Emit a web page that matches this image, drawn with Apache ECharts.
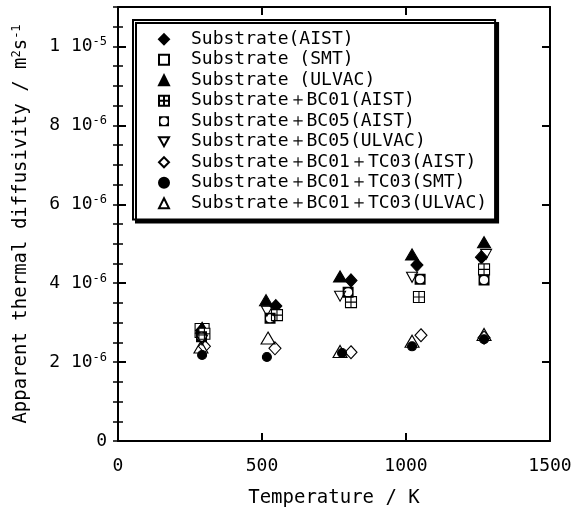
<!DOCTYPE html>
<html>
<head>
<meta charset="utf-8">
<script src="https://cdn.jsdelivr.net/npm/echarts@6/dist/echarts.min.js"></script>
<style>html,body{margin:0;padding:0;background:#fff;}#c{width:575px;height:517px;}</style>
</head>
<body>
<div id="c"></div>
<script>
// Values: temperature in K, diffusivity in units of 1e-6 m^2/s
var seriesNames = [
  'Substrate(AIST)',
  'Substrate (SMT)',
  'Substrate (ULVAC)',
  'Substrate＋BC01(AIST)',
  'Substrate＋BC05(AIST)',
  'Substrate＋BC05(ULVAC)',
  'Substrate＋BC01＋TC03(AIST)',
  'Substrate＋BC01＋TC03(SMT)',
  'Substrate＋BC01＋TC03(ULVAC)'
];
var subAIST_T   = [290, 548, 809, 1038, 1262];
var subAIST_D   = [2.80, 3.42, 4.07, 4.46, 4.66];
var subSMT_T    = [292];
var subSMT_D    = [2.80];
var subULVAC_T  = [292, 514, 771, 1021, 1271];
var subULVAC_D  = [2.87, 3.57, 4.17, 4.73, 5.04];
var bc01AIST_T  = [300, 552, 809, 1045, 1271];
var bc01AIST_D  = [2.72, 3.19, 3.52, 3.65, 4.35];
var bc05AIST_T  = [290, 528, 799, 1049, 1271];
var bc05AIST_D  = [2.64, 3.11, 3.77, 4.10, 4.08];
var bc05ULVAC_T = [292, 517, 771, 1021, 1278];
var bc05ULVAC_D = [2.56, 3.29, 3.67, 4.15, 4.73];
var tc03AIST_T  = [300, 545, 809, 1052, 1271];
var tc03AIST_D  = [2.40, 2.35, 2.25, 2.68, 2.62];
var tc03SMT_T   = [292, 517, 778, 1021, 1271];
var tc03SMT_D   = [2.18, 2.13, 2.23, 2.40, 2.58];
var tc03ULVAC_T = [288, 521, 771, 1021, 1271];
var tc03ULVAC_D = [2.38, 2.61, 2.27, 2.53, 2.70];

var xTicks = [0, 500, 1000, 1500];
var yTickMant = ['0', '2', '4', '6', '8', '1'];
var yTickExp  = ['', '-6', '-6', '-6', '-6', '-5'];

function pairs(t, d) { return t.map(function (v, i) { return [v, d[i]]; }); }

var FONT = 'DejaVu Sans Mono';
var OPEN = 'rgba(0,0,0,0)';
var symGrid = 'path://M0,0H10V10H0Z M5,0V10 M0,5H10';
var symCircSq = 'path://M0,0L10,0L10,10L0,10Z M5,1.3A3.7,3.7,0,1,0,5,8.7A3.7,3.7,0,1,0,5,1.3Z';
var symInvTri = 'path://M0,0L10,0L5,9Z';

var seriesDefs = [
  {d: pairs(subAIST_T, subAIST_D),   sym: 'diamond', size: [12, 13], fill: '#000'},
  {d: pairs(subSMT_T, subSMT_D),     sym: 'rect',    size: 14,      fill: OPEN},
  {d: pairs(subULVAC_T, subULVAC_D), sym: 'triangle', size: [13, 11], fill: '#000'},
  {d: pairs(bc01AIST_T, bc01AIST_D), sym: symGrid,   size: 11,      fill: '#fff'},
  {d: pairs(bc05AIST_T, bc05AIST_D), sym: symCircSq, size: 11,      fill: '#000', noBorder: true},
  {d: pairs(bc05ULVAC_T, bc05ULVAC_D), sym: symInvTri, size: [11, 10], fill: OPEN},
  {d: pairs(tc03AIST_T, tc03AIST_D), sym: 'diamond', size: [12, 13], fill: OPEN},
  {d: pairs(tc03SMT_T, tc03SMT_D),   sym: 'circle',  size: 9,       fill: '#000'},
  {d: pairs(tc03ULVAC_T, tc03ULVAC_D), sym: 'triangle', size: [14, 12], fill: OPEN}
];

var series = seriesDefs.map(function (s, i) {
  return {
    name: seriesNames[i],
    type: 'scatter',
    xAxisIndex: 0,
    yAxisIndex: 0,
    data: s.d,
    symbol: s.sym,
    symbolSize: s.size,
    itemStyle: {
      color: s.fill,
      borderColor: '#000',
      borderWidth: s.noBorder ? 0 : 1.1,
      opacity: 1
    },
    emphasis: {disabled: true}
  };
});

var axisLineStyle = {color: '#000', width: 2};

var chart = echarts.init(document.getElementById('c'), null, {renderer: 'canvas'});
chart.setOption({
  animation: false,
  backgroundColor: '#fff',
  textStyle: {fontFamily: FONT},
  grid: {left: 118, right: 25, top: 7, bottom: 76, containLabel: false},
  xAxis: [
    {
      type: 'value', min: xTicks[0], max: xTicks[xTicks.length - 1], interval: 500,
      position: 'bottom',
      name: 'Temperature / K', nameLocation: 'middle', nameGap: 48,
      nameTextStyle: {fontFamily: FONT, fontSize: 19, color: '#000'},
      axisLine: {show: true, onZero: false, lineStyle: axisLineStyle},
      axisTick: {show: true, inside: true, length: 8, lineStyle: {color: '#000', width: 2}},
      axisLabel: {fontFamily: FONT, fontSize: 18, color: '#000', margin: 16,
        formatter: function (v) { return String(v); }},
      splitLine: {show: false}
    },
    {
      type: 'value', min: xTicks[0], max: xTicks[xTicks.length - 1], interval: 500,
      position: 'top',
      axisLine: {show: true, onZero: false, lineStyle: axisLineStyle},
      axisTick: {show: true, inside: true, length: 8, lineStyle: {color: '#000', width: 2}},
      axisLabel: {show: false},
      splitLine: {show: false}
    }
  ],
  yAxis: [
    {
      type: 'value', min: 0, max: 11, interval: 2, position: 'left',
      name: 'Apparent thermal diffusivity / m{s|2}s{s|-1}',
      nameLocation: 'middle', nameGap: 86, nameRotate: 90,
      nameTextStyle: {
        fontFamily: FONT, fontSize: 19, color: '#000',
        rich: {s: {fontFamily: FONT, fontSize: 12, color: '#000', padding: [0, 0, 9, 0]}}
      },
      axisLine: {show: true, onZero: false, lineStyle: axisLineStyle},
      axisTick: {show: true, inside: true, length: 8, lineStyle: {color: '#000', width: 2}},
      axisLabel: {
        showMaxLabel: false, margin: 11, color: '#000', fontFamily: FONT, fontSize: 18,
        formatter: function (v) {
          var i = Math.round(v / 2);
          if (i === 0) return yTickMant[0];
          return yTickMant[i] + ' 10{s|' + yTickExp[i] + '}';
        },
        rich: {s: {fontFamily: FONT, fontSize: 12, color: '#000', padding: [0, 0, 9, 0]}}
      },
      splitLine: {show: false}
    },
    {
      type: 'value', min: 0, max: 11, interval: 0.5, position: 'left',
      axisLine: {show: false},
      axisTick: {show: true, inside: true, length: 5, lineStyle: {color: '#000', width: 1.5}},
      axisLabel: {show: false},
      splitLine: {show: false}
    },
    {
      type: 'value', min: 0, max: 11, interval: 2, position: 'right',
      axisLine: {show: true, onZero: false, lineStyle: axisLineStyle},
      axisTick: {show: true, inside: true, length: 8, lineStyle: {color: '#000', width: 2}},
      axisLabel: {show: false},
      splitLine: {show: false}
    },
    {
      type: 'value', min: 0, max: 11, interval: 0.5, position: 'right',
      axisLine: {show: false},
      axisTick: {show: true, inside: true, length: 5, lineStyle: {color: '#000', width: 1.5}},
      axisLabel: {show: false},
      splitLine: {show: false}
    }
  ],
  legend: {
    show: true,
    orient: 'vertical',
    left: 133, top: 20,
    padding: [9, 8, 6, 25],
    itemGap: 0,
    itemWidth: 10, itemHeight: 10,
    backgroundColor: '#fff',
    borderColor: '#000', borderWidth: 2, borderRadius: 0,
    shadowColor: '#000', shadowBlur: 0, shadowOffsetX: 3, shadowOffsetY: 3,
    selectedMode: false,
    textStyle: {fontFamily: FONT, fontSize: 18, color: '#000', lineHeight: 20.5, padding: [0, 0, 0, 17]},
    data: seriesNames
  },
  series: series
});
</script>
</body>
</html>
